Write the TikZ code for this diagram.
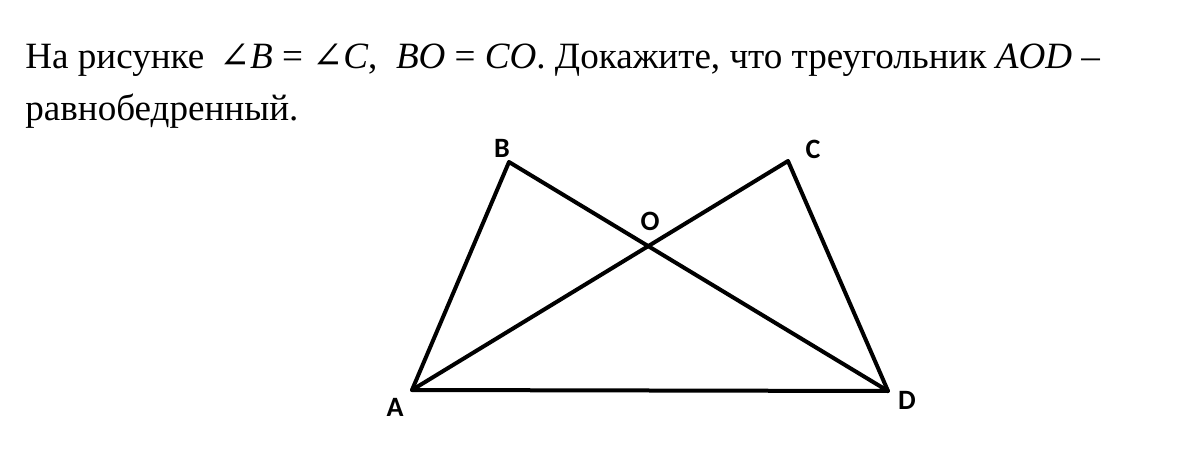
\documentclass[tikz,border=0pt]{standalone}
\usepackage{fontspec}
\setmainfont{Liberation Serif}
\newfontfamily\lblfont{Carlito}
\newfontfamily\angfont{DejaVu Serif}
\newcommand{\myang}{{\angfont ∠}}
\begin{document}
\begin{tikzpicture}[x=0.5pt,y=-0.5pt,
  edge/.style={line width=2pt,line join=round,line cap=round},
  vlabel/.style={font=\lblfont\bfseries\fontsize{14}{16}\selectfont,inner sep=0pt},
  txt/.style={font=\fontsize{18.55}{23}\selectfont,inner sep=0pt,anchor=base west}]
\useasboundingbox (0,0) rectangle (1200,460);
\node[txt] (t1) at (25,69) {На рисунке\hspace{0.4em}\myang\textit{B} = \myang\textit{C},\ \ \textit{BO} = \textit{CO}. Докажите, что треугольник \textit{AOD} –};
\node[txt] (t2) at (25,121) {равнобедренный.};
\coordinate (A) at (412,390);
\coordinate (B) at (509,162);
\coordinate (C) at (788,161);
\coordinate (D) at (888,391);
\draw[edge] (A) -- (B) -- (D) -- cycle;
\draw[edge] (A) -- (C) -- (D);
\node[vlabel] (lA) at (395,407) {A};
\node[vlabel] (lB) at (502,148) {B};
\node[vlabel] (lC) at (813,149) {C};
\node[vlabel] (lD) at (907,400) {D};
\node[vlabel] (lO) at (650,221) {O};
\end{tikzpicture}
\end{document}
